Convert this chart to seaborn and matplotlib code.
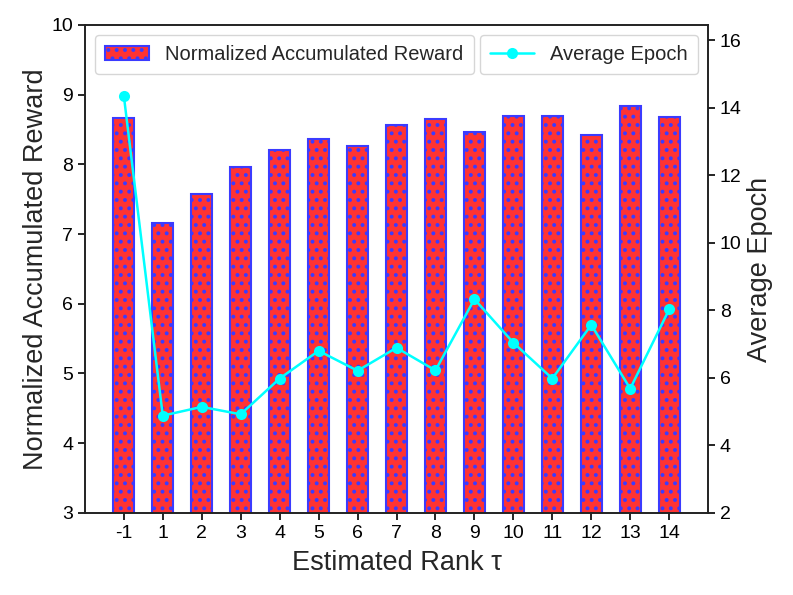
import matplotlib
matplotlib.use("Agg")
import matplotlib.pyplot as plt
import pandas as pd
import seaborn as sns

ranks = ["-1", "1", "2", "3", "4", "5", "6", "7", "8", "9", "10", "11", "12", "13", "14"]
reward = [8.66, 7.16, 7.57, 7.96, 8.20, 8.36, 8.27, 8.56, 8.65, 8.46, 8.69, 8.70, 8.42, 8.84, 8.68]
epoch = [14.36, 4.88, 5.14, 4.92, 5.98, 6.80, 6.21, 6.89, 6.22, 8.33, 7.04, 5.98, 7.57, 5.68, 8.03]

df = pd.DataFrame({"rank": ranks, "reward": reward, "epoch": epoch})

sns.set_style("ticks")
plt.rcParams["font.family"] = ["Liberation Sans", "DejaVu Sans"]
plt.rcParams["hatch.linewidth"] = 1.6
plt.rcParams["hatch.color"] = "#3b3bff"

fig = plt.figure(figsize=(7.93, 5.95), dpi=100)
ax = fig.add_axes([0.107, 0.138, 0.786, 0.82])

sns.barplot(data=df, x="rank", y="reward", ax=ax, width=0.53,
            color="#ff3333", saturation=1, edgecolor="#3b3bff", linewidth=1.5,
            hatch="..", label="Normalized Accumulated Reward")
ax.set_ylim(3, 10)
ax.set_xlabel("Estimated Rank τ", fontsize=19.5, labelpad=6)
ax.set_ylabel("Normalized Accumulated Reward", fontsize=19.5, labelpad=2)
ax.tick_params(labelsize=14, length=5, width=1.2, colors="black")

ax2 = ax.twinx()
sns.lineplot(data=df, x=range(len(ranks)), y="epoch", ax=ax2, color="cyan",
             marker="o", markersize=8, markeredgewidth=0, linewidth=1.8,
             label="Average Epoch")
ax2.set_ylim(2, 16.45)
ax2.set_yticks([2, 4, 6, 8, 10, 12, 14, 16])
ax2.set_ylabel("Average Epoch", fontsize=19.5)
ax2.tick_params(labelsize=14, length=5, width=1.2, colors="black")
ax.set_xlim(-1, 15)

for a in (ax, ax2):
    for s in a.spines.values():
        s.set_linewidth(1.2)
        s.set_color("#222222")

ax.legend(loc="upper left", fontsize=14.5, frameon=True, fancybox=True,
          borderpad=0.5, handlelength=2.2)
ax2.legend(loc="upper right", fontsize=14.5, frameon=True, fancybox=True,
           borderpad=0.5, handlelength=2.2)

fig.savefig("out.png", dpi=100)
